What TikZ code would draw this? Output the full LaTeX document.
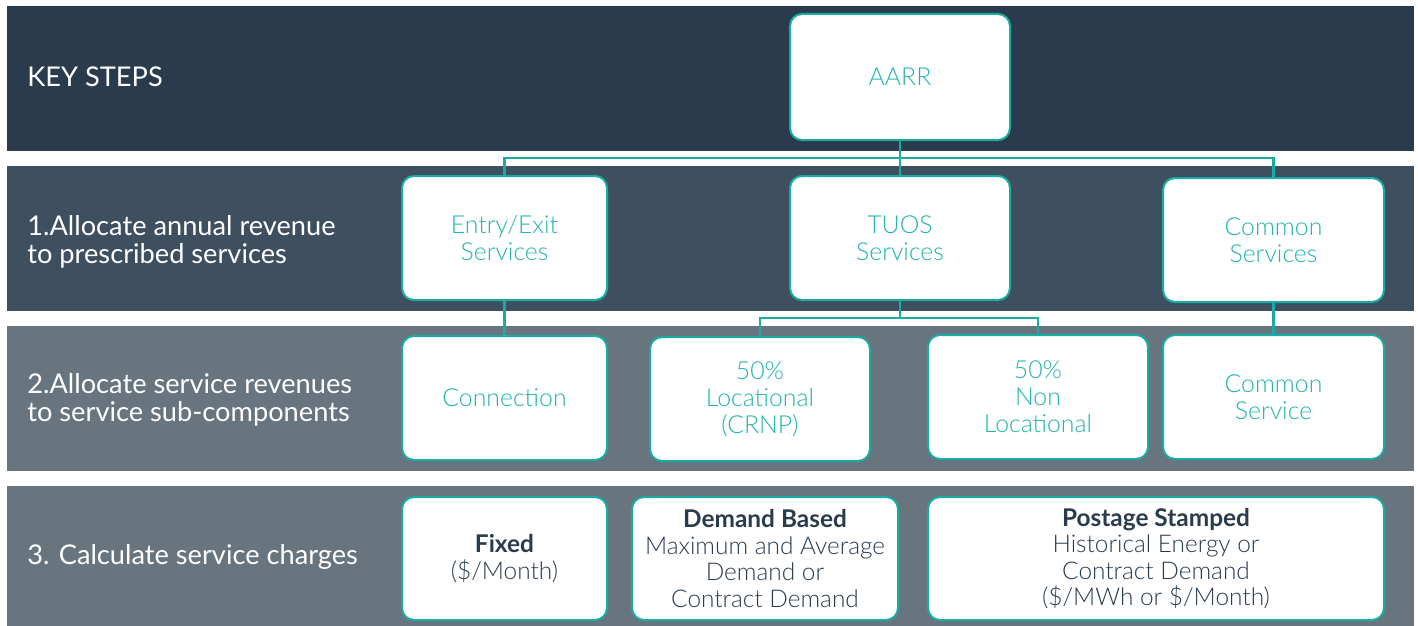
\documentclass[tikz,border=0pt]{standalone}
\usepackage{fontspec}
\setmainfont{Lato}
\newfontfamily\lightfont{Lato Light}
\usepackage{tikz}
\usetikzlibrary{positioning}

\definecolor{bandA}{RGB}{42,59,77}
\definecolor{bandB}{RGB}{62,79,95}
\definecolor{bandC}{RGB}{104,117,127}
\definecolor{tealline}{RGB}{24,172,164}
\definecolor{tealtext}{RGB}{34,180,172}
\definecolor{navytext}{RGB}{42,59,77}

\tikzset{
  steplabel/.style={anchor=west, align=left, text=white, inner sep=0pt, font=\fontsize{13.6}{14}\selectfont},
  tbox/.style={draw=tealline, line width=1pt, fill=white, rounded corners=6pt, align=center, inner sep=0pt, text=tealtext, font=\lightfont\fontsize{12.4}{13.6}\selectfont},
  cbox/.style={tbox, text=navytext, font=\lightfont\fontsize{12.2}{13.3}\selectfont},
  link/.style={draw=tealline, line width=1.4pt}
}

\begin{document}
\begin{tikzpicture}[x=0.5pt,y=-0.5pt]
\useasboundingbox (0,0) rectangle (1418,626);

% Bands
\fill[bandA] (7,6) rectangle (1414,151);
\fill[bandB] (7,166) rectangle (1414,311);
\fill[bandC] (7,326) rectangle (1414,471);
\fill[bandC] (7,486) rectangle (1414,626);

% Step labels
\node [steplabel] (keysteps) at (27,77) {KEY STEPS};
\node [steplabel] (step1) at (27,242) {1.Allocate annual revenue\\to prescribed services};
\node [steplabel] (step2) at (27,400) {2.Allocate service revenues\\to service sub-components};
\node [steplabel] (step3) at (27,557) {3. Calculate service charges};

% Row 1
\node [tbox, minimum width=110pt, minimum height=63pt] (aarr) at (900,77) {AARR};

% Row 2
\node [tbox, minimum width=102.5pt, minimum height=62pt] (entry) at (504.5,238) {Entry/Exit\\Services};
\node [tbox, minimum width=110pt, minimum height=62pt] (tuos) at (900,238) {TUOS\\Services};
\node [tbox, minimum width=110.5pt, minimum height=62pt] (common) at (1273.5,240) {Common\\Services};

% Row 3
\node [tbox, minimum width=102.5pt, minimum height=62pt] (conn) at (504.5,398) {Connection};
\node [tbox, minimum width=110pt, minimum height=62pt] (loc) at (760,399) {50\%\\Locational\\(CRNP)};
\node [tbox, minimum width=110pt, minimum height=62pt] (nonloc) at (1038,397) {50\%\\Non\\Locational};
\node [tbox, minimum width=110.5pt, minimum height=62pt] (comsvc) at (1273.5,397) {Common\\Service};

% Row 4
\node [cbox, minimum width=102.5pt, minimum height=61.5pt] (fixed) at (504.5,558.5) {{\rmfamily\bfseries Fixed}\\(\$/Month)};
\node [cbox, minimum width=133pt, minimum height=61.5pt] (demand) at (765,558.5) {{\rmfamily\bfseries Demand Based}\\Maximum and Average\\Demand or\\Contract Demand};
\node [cbox, minimum width=228pt, minimum height=61.5pt] (postage) at (1156,558.5) {{\rmfamily\bfseries Postage Stamped}\\Historical Energy or\\Contract Demand\\(\$/MWh or \$/Month)};

% Connectors
\coordinate (busA) at (0,158);
\coordinate (busB) at (0,318);
\draw[link] (aarr.south) -- (tuos.north);
\draw[link] (entry.north) -- (entry.north |- busA) -| (common.north);
\draw[link] (entry.south) -- (conn.north);
\draw[link] (tuos.south) -- (tuos.south |- busB);
\draw[link] (loc.north) -- (loc.north |- busB) -| (nonloc.north);
\draw[link] (common.south) -- (comsvc.north);

\end{tikzpicture}
\end{document}
